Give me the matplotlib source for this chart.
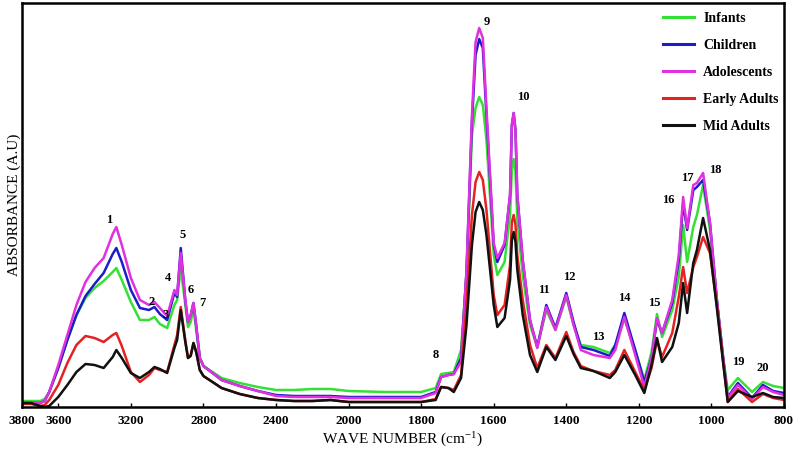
import numpy as np
import matplotlib
matplotlib.use('Agg')
from matplotlib import pyplot as plt

plt.rcParams['font.family'] = ['Liberation Serif', 'DejaVu Serif']
plt.rcParams['mathtext.fontset'] = 'stix'

# wavenumbers (cm-1) where the spectra were read
wavenumber = [3800, 3750, 3700, 3675, 3650, 3600, 3550, 3500, 3450, 3400, 3350, 3300, 3280, 3250,
              3200, 3150, 3100, 3070, 3040, 3000, 2960, 2945, 2925, 2900, 2885, 2870, 2855, 2840,
              2820, 2800, 2700, 2600, 2500, 2400, 2300, 2200, 2100, 2000, 1900, 1800, 1760, 1745,
              1725, 1710, 1690, 1675, 1660, 1650, 1640, 1630, 1620, 1600, 1590, 1570, 1555, 1550,
              1545, 1540, 1535, 1520, 1500, 1480, 1455, 1430, 1400, 1380, 1360, 1325, 1280, 1265,
              1240, 1210, 1185, 1165, 1150, 1136, 1108, 1090, 1078, 1067, 1050, 1040, 1023, 1004,
              985, 968, 955, 927, 888, 858, 830, 800]

infants = [0.06, 0.06, 0.06, 0.08, 0.15, 0.39, 0.67, 0.92, 1.09, 1.19, 1.26, 1.35, 1.39, 1.27,
           1.05, 0.87, 0.87, 0.90, 0.83, 0.79, 1.02, 1.07, 1.39, 1.02, 0.80, 0.85, 0.99, 0.77,
           0.49, 0.41, 0.29, 0.24, 0.20, 0.17, 0.17, 0.18, 0.18, 0.16, 0.15, 0.15, 0.19, 0.33,
           0.34, 0.35, 0.57, 1.32, 2.72, 2.99, 3.10, 3.02, 2.67, 1.52, 1.32, 1.45, 1.92, 2.37,
           2.48, 2.35, 1.87, 1.32, 0.82, 0.60, 0.97, 0.77, 1.10, 0.82, 0.62, 0.60, 0.54, 0.62,
           0.88, 0.57, 0.27, 0.55, 0.93, 0.70, 0.97, 1.30, 1.82, 1.45, 1.80, 1.92, 2.22, 1.77,
           1.07, 0.50, 0.17, 0.29, 0.15, 0.25, 0.21, 0.19]

children = [0.04, 0.04, 0.04, 0.06, 0.15, 0.39, 0.67, 0.92, 1.11, 1.23, 1.34, 1.53, 1.59, 1.45,
            1.17, 0.99, 0.97, 1.00, 0.93, 0.87, 1.14, 1.10, 1.59, 1.07, 0.85, 0.92, 1.04, 0.82,
            0.49, 0.41, 0.27, 0.21, 0.16, 0.12, 0.11, 0.11, 0.11, 0.10, 0.10, 0.10, 0.15, 0.30,
            0.32, 0.33, 0.49, 1.35, 2.85, 3.52, 3.68, 3.59, 2.92, 1.62, 1.45, 1.62, 2.12, 2.82,
            2.94, 2.77, 2.12, 1.47, 0.87, 0.60, 1.02, 0.79, 1.14, 0.85, 0.60, 0.57, 0.51, 0.62,
            0.94, 0.57, 0.25, 0.49, 0.87, 0.74, 1.04, 1.47, 2.04, 1.77, 2.17, 2.20, 2.27, 1.84,
            1.07, 0.50, 0.10, 0.24, 0.09, 0.22, 0.16, 0.14]

adolescents = [0.04, 0.04, 0.04, 0.06, 0.15, 0.42, 0.72, 1.02, 1.25, 1.39, 1.49, 1.73, 1.80, 1.62,
               1.29, 1.07, 1.02, 1.05, 0.99, 0.91, 1.17, 1.12, 1.54, 1.07, 0.85, 0.92, 1.04, 0.82,
               0.49, 0.41, 0.27, 0.21, 0.16, 0.11, 0.10, 0.10, 0.10, 0.09, 0.09, 0.09, 0.14, 0.30,
               0.32, 0.33, 0.45, 1.37, 2.92, 3.65, 3.79, 3.69, 2.99, 1.64, 1.49, 1.64, 2.12, 2.82,
               2.94, 2.77, 2.12, 1.47, 0.87, 0.59, 1.00, 0.77, 1.12, 0.82, 0.57, 0.52, 0.49, 0.57,
               0.90, 0.52, 0.20, 0.49, 0.89, 0.74, 1.07, 1.52, 2.10, 1.79, 2.22, 2.24, 2.34, 1.84,
               1.07, 0.50, 0.09, 0.22, 0.08, 0.20, 0.15, 0.12]

early_adults = [0.03, 0.03, 0.01, 0.02, 0.07, 0.22, 0.44, 0.62, 0.71, 0.69, 0.65, 0.72, 0.74, 0.61,
                0.35, 0.25, 0.32, 0.39, 0.37, 0.35, 0.62, 0.72, 1.00, 0.67, 0.49, 0.52, 0.64, 0.55,
                0.37, 0.31, 0.19, 0.13, 0.09, 0.07, 0.06, 0.06, 0.07, 0.05, 0.05, 0.05, 0.08, 0.20,
                0.19, 0.17, 0.32, 1.02, 1.92, 2.25, 2.35, 2.27, 1.97, 1.12, 0.92, 1.02, 1.42, 1.85,
                1.92, 1.82, 1.52, 1.07, 0.62, 0.39, 0.62, 0.49, 0.75, 0.55, 0.41, 0.36, 0.32, 0.37,
                0.57, 0.35, 0.17, 0.39, 0.67, 0.50, 0.74, 1.10, 1.40, 1.14, 1.40, 1.50, 1.70, 1.54,
                1.02, 0.47, 0.05, 0.18, 0.05, 0.13, 0.09, 0.07]

mid_adults = [0.04, 0.04, 0.01, 0.00, 0.01, 0.10, 0.22, 0.35, 0.43, 0.42, 0.39, 0.50, 0.57, 0.49,
              0.34, 0.29, 0.35, 0.40, 0.38, 0.34, 0.59, 0.67, 0.97, 0.65, 0.49, 0.51, 0.64, 0.55,
              0.37, 0.31, 0.19, 0.13, 0.09, 0.07, 0.06, 0.06, 0.07, 0.05, 0.05, 0.05, 0.07, 0.20,
              0.19, 0.15, 0.29, 0.82, 1.62, 1.95, 2.05, 1.97, 1.72, 1.02, 0.80, 0.89, 1.27, 1.67,
              1.75, 1.65, 1.37, 0.92, 0.52, 0.35, 0.60, 0.47, 0.71, 0.53, 0.39, 0.36, 0.29, 0.35,
              0.52, 0.32, 0.14, 0.42, 0.69, 0.45, 0.60, 0.84, 1.24, 0.94, 1.44, 1.57, 1.89, 1.57,
              0.99, 0.45, 0.05, 0.16, 0.10, 0.14, 0.10, 0.09]

series_names = ['Infants', 'Children', 'Adolescents', 'Early Adults', 'Mid Adults']
series_colors = ['#35e035', '#1c1cc8', '#e030e0', '#e42222', '#111111']

# numbered band labels
peak_ids = [str(i) for i in range(1, 21)]
peak_x = [3320, 3084, 3006, 2995, 2912, 2868, 2808, 1759, 1618, 1519,
          1461, 1393, 1313, 1241, 1158, 1120, 1067, 990, 927, 858]
peak_y = [1.87, 1.05, 0.92, 1.29, 1.72, 1.17, 1.04, 0.52, 3.85, 3.10,
          1.17, 1.30, 0.70, 1.09, 1.04, 2.07, 2.29, 2.37, 0.45, 0.39]

x_ticks = [3800, 3600, 3200, 2800, 2400, 2000, 1800, 1600, 1400, 1200, 1000, 800]


def fwd(x):
    """ above 2000 cm-1 the axis is drawn at half scale """
    x = np.asarray(x, dtype=float)
    return np.where(x > 2000, 1000 + x / 2, x)


def inv(t):
    t = np.asarray(t, dtype=float)
    return np.where(t > 2000, 2 * t - 2000, t)


fig = plt.figure(figsize=(7.96, 4.63), dpi=100)
ax = fig.add_axes([22 / 796, 1 - 407 / 463, (784 - 22) / 796, (407 - 3) / 463])

all_series = [infants, children, adolescents, early_adults, mid_adults]
for values, name, color in zip(all_series, series_names, series_colors):
    ax.plot(wavenumber, values, color=color, lw=1.8, label=name,
            solid_joinstyle='round')

for txt, px, py in zip(peak_ids, peak_x, peak_y):
    ax.text(px, py, txt, ha='center', va='center', fontsize=9, fontweight='bold')

ax.set_xscale('function', functions=(fwd, inv))
ax.set_xlim(3800, 800)
ax.set_ylim(0, 4.04)
ax.set_xticks(x_ticks)
ax.set_xticklabels([str(t) for t in x_ticks], fontweight='bold', fontsize=9.5)
ax.minorticks_off()
ax.set_yticks([])
ax.tick_params(axis='x', direction='in', length=3, width=1, pad=6)
for sp in ax.spines.values():
    sp.set_linewidth(1.8)

ax.set_xlabel(r'WAVE NUMBER (cm$^{\mathregular{-1}}$)', fontsize=11, labelpad=1)
ax.set_ylabel('ABSORBANCE (A.U)', fontsize=11, labelpad=1)

leg = ax.legend(loc='upper left', bbox_to_anchor=(656 / 796, 1 - 5 / 463),
                bbox_transform=fig.transFigure, frameon=False, borderpad=0,
                handlelength=2.2, handletextpad=0.7, labelspacing=1.0,
                prop={'family': 'Liberation Serif', 'weight': 'bold', 'size': 10})
for line in leg.get_lines():
    line.set_linewidth(2.2)

fig.savefig('out.png', dpi=100)
